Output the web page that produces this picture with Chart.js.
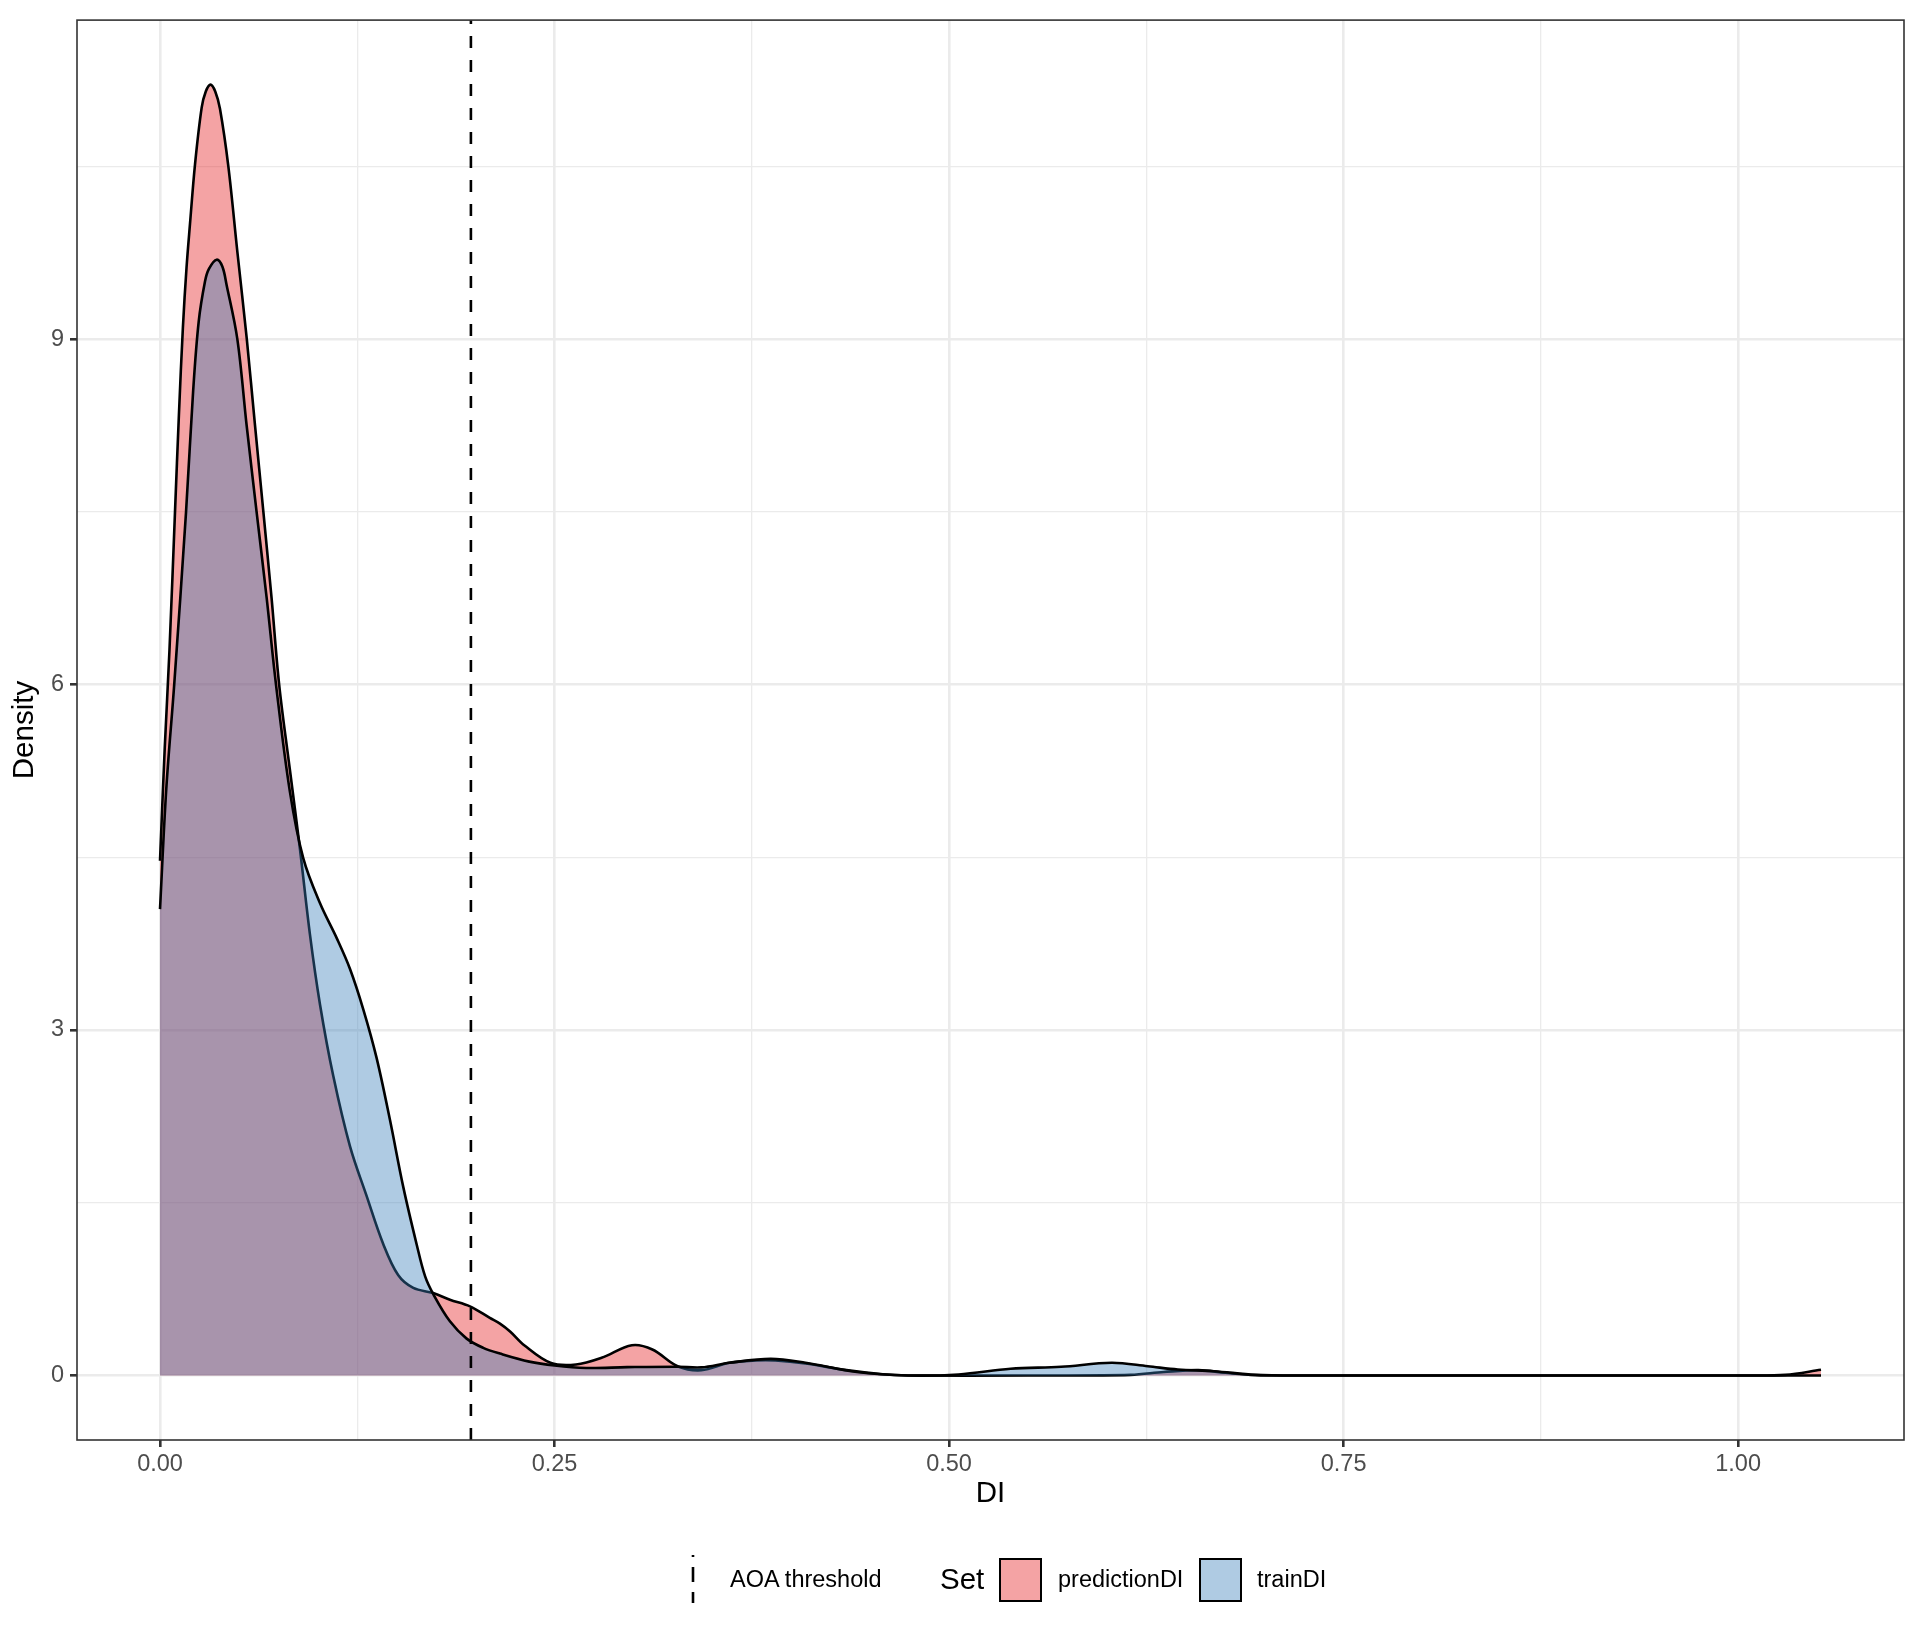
<!DOCTYPE html>
<html>
<head>
<meta charset="utf-8">
<script src="https://cdn.jsdelivr.net/npm/chart.js@4.4.1/dist/chart.umd.min.js"></script>
<style>
  html, body { margin: 0; padding: 0; background: #ffffff; }
  #wrap { position: relative; width: 1920px; height: 1632px; font-family: "Liberation Sans", Arial, sans-serif; }
  canvas { position: absolute; left: 0; top: 0; }
  .lg { position: absolute; color: #000; white-space: nowrap; }
  .txt { font-size: 23.5px; line-height: 28px; height: 28px; }
  .ttl { font-size: 29.5px; line-height: 34px; height: 34px; }
  .box { position: absolute; box-sizing: border-box; width: 43px; height: 44px; border: 2.6px solid #000; }
</style>
</head>
<body>
<div id="wrap">
  <canvas id="c" width="1920" height="1632"></canvas>
  <svg class="lg" style="left:683px; top:1550px;" width="20" height="60">
    <line x1="10" y1="53" x2="10" y2="5" stroke="#000" stroke-width="2.6" stroke-dasharray="11 10 15 10 2 10"></line>
  </svg>
  <div class="lg txt" style="left:730px; top:1565px;">AOA threshold</div>
  <div class="lg ttl" style="left:940px; top:1562px;">Set</div>
  <div class="box" style="left:999px; top:1558px; background: rgba(228,26,28,0.4);"></div>
  <div class="lg txt" style="left:1058px; top:1565px;">predictionDI</div>
  <div class="box" style="left:1199px; top:1558px; background: rgba(55,126,184,0.4);"></div>
  <div class="lg txt" style="left:1257px; top:1565px;">trainDI</div>
</div>
<script>
// ---- data ----
const predX = [0, 0.003, 0.006, 0.0095, 0.012, 0.0145, 0.0168, 0.019, 0.0222, 0.0264, 0.029, 0.032, 0.035, 0.038, 0.0433, 0.049, 0.055, 0.0602, 0.0655, 0.0707, 0.0755, 0.0823, 0.0887, 0.095, 0.1014, 0.1098, 0.1204, 0.1309, 0.1415, 0.151, 0.1605, 0.1731, 0.1837, 0.1964, 0.209, 0.2154, 0.222, 0.231, 0.2474, 0.2636, 0.2798, 0.299, 0.312, 0.328, 0.343, 0.3607, 0.377, 0.39, 0.409, 0.435, 0.458, 0.474, 0.55, 0.615, 0.636, 0.658, 0.675, 0.694, 0.72, 1.0, 1.03, 1.0525];
const predY = [4.47, 5.45, 6.3, 7.5, 8.35, 9.1, 9.62, 10.0, 10.52, 11.01, 11.15, 11.21, 11.15, 11.0, 10.5, 9.76, 9.0, 8.25, 7.5, 6.75, 6.0, 5.26, 4.57, 3.83, 3.22, 2.6, 1.99, 1.56, 1.14, 0.87, 0.76, 0.716, 0.658, 0.6, 0.5, 0.45, 0.38, 0.26, 0.11, 0.095, 0.153, 0.262, 0.225, 0.08, 0.045, 0.11, 0.13, 0.13, 0.104, 0.046, 0.01, 0, 0, 0.005, 0.03, 0.046, 0.023, 0.003, 0, 0, 0.005, 0.05];
const trainX = [0, 0.004, 0.009, 0.0165, 0.021, 0.0245, 0.0285, 0.031, 0.0359, 0.0395, 0.0422, 0.049, 0.0549, 0.0612, 0.0676, 0.0735, 0.0823, 0.0908, 0.1014, 0.1119, 0.1204, 0.1288, 0.1372, 0.1457, 0.1541, 0.1626, 0.168, 0.1734, 0.1837, 0.1943, 0.2048, 0.2154, 0.234, 0.25, 0.27, 0.296, 0.328, 0.343, 0.361, 0.387, 0.409, 0.4416, 0.474, 0.506, 0.539, 0.571, 0.603, 0.626, 0.645, 0.668, 0.694, 0.722, 1.0525];
const trainY = [4.05, 5.1, 6.0, 7.5, 8.55, 9.15, 9.5, 9.61, 9.69, 9.63, 9.47, 9.0, 8.25, 7.5, 6.75, 6.0, 5.07, 4.49, 4.1, 3.8, 3.53, 3.18, 2.76, 2.22, 1.64, 1.14, 0.86, 0.7, 0.47, 0.32, 0.24, 0.19, 0.12, 0.086, 0.065, 0.072, 0.076, 0.07, 0.11, 0.144, 0.11, 0.03, 0, 0.009, 0.058, 0.075, 0.11, 0.08, 0.052, 0.037, 0.006, 0, 0];
const aoaThreshold = 0.197;

const xMajor = [0, 0.25, 0.5, 0.75, 1.0];
const xMajorLabels = ["0.00", "0.25", "0.50", "0.75", "1.00"];
const xMinor = [0.125, 0.375, 0.625, 0.875];
const yMajor = [0, 3, 6, 9];
const yMajorLabels = ["0", "3", "6", "9"];
const yMinor = [1.5, 4.5, 7.5, 10.5];

const xMin = -0.0526, xMax = 1.1051;
const yMin = -0.5605, yMax = 11.7705;

// ---- build ----
const pts = (xs, ys) => xs.map((x, i) => ({x: x, y: ys[i]}));
const isIn = (arr, v) => arr.findIndex(a => Math.abs(a - v) < 1e-9);

const panelBorder = {
  id: 'panelBorder',
  afterDatasetsDraw(chart) {
    const a = chart.chartArea, ctx = chart.ctx;
    ctx.save();
    ctx.strokeStyle = '#333333';
    ctx.lineWidth = 1.6;
    ctx.strokeRect(a.left, a.top, a.right - a.left, a.bottom - a.top);
    ctx.restore();
  }
};

Chart.defaults.font.family = '"Liberation Sans", Arial, sans-serif';

new Chart(document.getElementById('c'), {
  type: 'line',
  data: {
    datasets: [
      {
        label: 'AOA threshold',
        data: [{x: aoaThreshold, y: yMin}, {x: aoaThreshold, y: yMax}],
        borderColor: '#000000',
        borderWidth: 2.6,
        borderDash: [12, 12],
        pointRadius: 0,
        fill: false,
        order: 0
      },
      {
        label: 'trainDI',
        data: pts(trainX, trainY),
        borderColor: '#000000',
        borderWidth: 2.6,
        backgroundColor: 'rgba(55,126,184,0.4)',
        fill: 'origin',
        pointRadius: 0,
        tension: 0.35,
        order: 1
      },
      {
        label: 'predictionDI',
        data: pts(predX, predY),
        borderColor: '#000000',
        borderWidth: 2.6,
        backgroundColor: 'rgba(228,26,28,0.4)',
        fill: 'origin',
        pointRadius: 0,
        tension: 0.35,
        order: 2
      }
    ]
  },
  options: {
    responsive: false,
    devicePixelRatio: 1,
    animation: false,
    layout: { padding: { left: 0, top: 15, right: 16, bottom: 117 } },
    plugins: { legend: { display: false }, tooltip: { enabled: false } },
    scales: {
      x: {
        type: 'linear',
        min: xMin, max: xMax,
        afterBuildTicks: (s) => { s.ticks = xMajor.concat(xMinor).sort((a, b) => a - b).map(v => ({value: v})); },
        afterFit: (s) => { s.height = 75; },
        ticks: {
          autoSkip: false, maxRotation: 0, minRotation: 0,
          padding: 3,
          color: '#4D4D4D',
          font: { size: 23.5 },
          callback: (v) => { const i = isIn(xMajor, v); return i >= 0 ? xMajorLabels[i] : ''; }
        },
        grid: {
          color: '#EBEBEB',
          lineWidth: (c) => isIn(xMajor, c.tick.value) >= 0 ? 2.6 : 1.3,
          drawTicks: true,
          tickLength: 7,
          tickWidth: 2.6,
          tickColor: (c) => isIn(xMajor, c.tick.value) >= 0 ? '#333333' : 'rgba(0,0,0,0)'
        },
        border: { display: false },
        title: {
          display: true, text: 'DI', color: '#000000',
          font: { size: 29.5 },
          padding: { top: 0, bottom: 3 }
        }
      },
      y: {
        type: 'linear',
        min: yMin, max: yMax,
        afterBuildTicks: (s) => { s.ticks = yMajor.concat(yMinor).sort((a, b) => a - b).map(v => ({value: v})); },
        afterFit: (s) => { s.width = 77; },
        ticks: {
          autoSkip: false,
          padding: 6,
          color: '#4D4D4D',
          font: { size: 23.5 },
          callback: (v) => { const i = isIn(yMajor, v); return i >= 0 ? yMajorLabels[i] : ''; }
        },
        grid: {
          color: '#EBEBEB',
          lineWidth: (c) => isIn(yMajor, c.tick.value) >= 0 ? 2.6 : 1.3,
          drawTicks: true,
          tickLength: 7,
          tickWidth: 2.6,
          tickColor: (c) => isIn(yMajor, c.tick.value) >= 0 ? '#333333' : 'rgba(0,0,0,0)'
        },
        border: { display: false },
        title: {
          display: true, text: 'Density', color: '#000000',
          font: { size: 29.5 },
          padding: { top: 7, bottom: 0 }
        }
      }
    }
  },
  plugins: [panelBorder]
});
</script>
</body>
</html>
